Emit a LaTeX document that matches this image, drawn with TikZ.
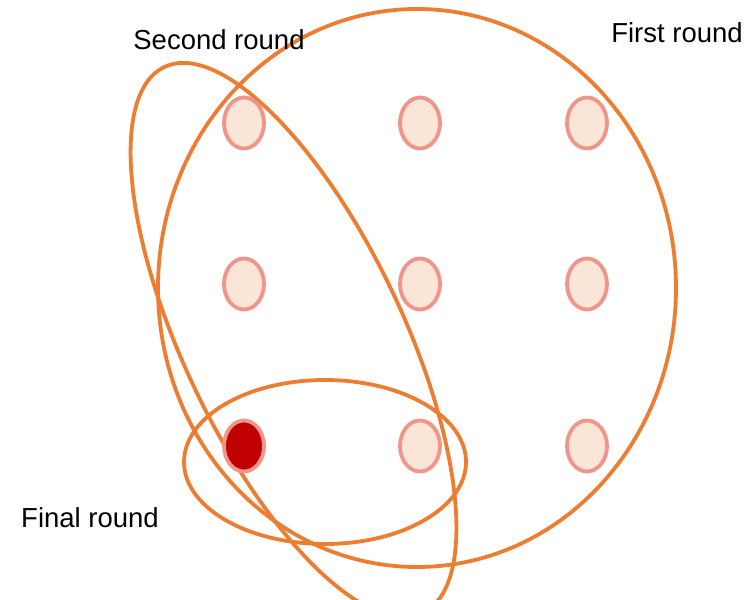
\documentclass[tikz,border=0pt]{standalone}
\usepackage{fontspec}
\setmainfont{Liberation Sans}
\usetikzlibrary{shapes.geometric}
\definecolor{ring}{HTML}{ED7D31}
\definecolor{dotfill}{HTML}{FBE5D6}
\definecolor{dotline}{HTML}{F1958A}
\definecolor{hit}{HTML}{C00000}
\tikzset{
  roundline/.style={draw=ring, line width=3.8pt},
  dotnode/.style={ellipse, draw=dotline, fill=dotfill, line width=3.8pt, minimum width=40pt, minimum height=51pt, inner sep=0pt},
  hitnode/.style={dotnode, fill=hit},
  lbl/.style={font=\fontsize{27.5}{30}\selectfont, inner sep=0pt}
}
\begin{document}
\begin{tikzpicture}[x=1pt,y=1pt]
\useasboundingbox (0,0) rectangle (756,600);
% First round
\draw[roundline] (417,312) ellipse [x radius=259, y radius=279];
% Second round
\draw[roundline, rotate around={25.3:(293.5,260)}] (293.5,260) ellipse [x radius=110, y radius=302];
% Final round
\draw[roundline] (325,138) ellipse [x radius=141, y radius=82];
% dots
\node[dotnode] (d11) at (244,477) {};
\node[dotnode] (d12) at (420,477) {};
\node[dotnode] (d13) at (587,477) {};
\node[dotnode] (d21) at (244,316) {};
\node[dotnode] (d22) at (420,316) {};
\node[dotnode] (d23) at (587,316) {};
\node[hitnode] (d31) at (244,154) {};
\node[dotnode] (d32) at (420,154) {};
\node[dotnode] (d33) at (587,154) {};
% labels
\node[lbl] (l2) at (219,560) {Second round};
\node[lbl] (l1) at (677,567) {First round};
\node[lbl] (l3) at (90,82) {Final round};
\end{tikzpicture}
\end{document}
